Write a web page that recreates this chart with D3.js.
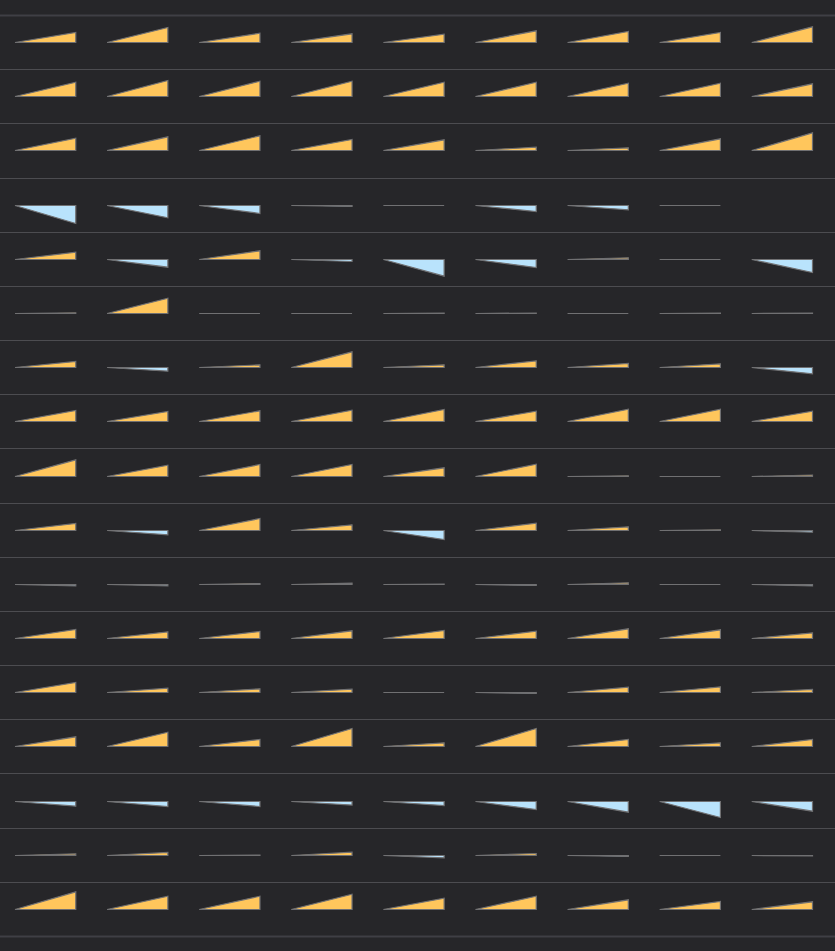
<!DOCTYPE html>
<html>
<head>
<meta charset="utf-8">
<script src="https://cdn.jsdelivr.net/npm/d3@7"></script>
<style>
  html, body { margin: 0; padding: 0; background: #262629; }
  svg { display: block; }
</style>
</head>
<body>
<div id="chart"></div>
<script>
// Columns and rows (categories)
const columns = ["C1", "C2", "C3", "C4", "C5", "C6", "C7", "C8", "C9"];
const rowNames = ["R1","R2","R3","R4","R5","R6","R7","R8","R9","R10","R11","R12","R13","R14","R15","R16","R17"];

// Values per row (positive = rise, negative = fall, null = no data)
const row01 = [10, 15, 9.3, 8.7, 8.3, 11.7, 11, 10, 15.7];
const row02 = [14.3, 16, 15.3, 15.3, 14.3, 14.3, 13.3, 13.3, 12.7];
const row03 = [12.3, 13.7, 14.7, 11, 10.7, 3.3, 2.7, 11.7, 17.7];
const row04 = [-18, -12.3, -8, -1, 0, -6, -4.3, 0, null];
const row05 = [7.3, -7.7, 8.7, -2, -16.7, -8, 1.7, 0, -13];
const row06 = [0.7, 15.3, 0, 0, 0.5, 0.5, 0, 0.5, 0.5];
const row07 = [6, -3.7, 2.7, 15.7, 2.7, 6.7, 4, 3.7, -6.3];
const row08 = [11, 10, 10.7, 11.3, 12, 10.3, 12.3, 12.3, 10.3];
const row09 = [16.7, 11.3, 12, 12, 8.7, 12.3, 0.7, 0, 1.5];
const row10 = [7, -4.3, 12, 5.7, -9, 7.3, 3.7, 0.7, -1.7];
const row11 = [-1.3, -1.3, 1, 1.3, 0.3, -1, 1.7, 0, -1.3];
const row12 = [9, 6.7, 7, 7.7, 8, 7.3, 9.7, 8.7, 5.7];
const row13 = [10, 4.3, 3.7, 3.3, 0, -1, 5.3, 5.7, 3];
const row14 = [9.7, 14.3, 7, 18, 3.7, 18, 7, 3.7, 7];
const row15 = [-4.7, -5, -5, -3.5, -4, -8, -10.7, -16, -9.7];
const row16 = [1.7, 3, 0.5, 3.3, -2.3, 2, -1, 0, -0.3];
const row17 = [17.7, 13.3, 13.3, 15.3, 11.3, 13.3, 9.7, 8, 7.7];

const series = [row01,row02,row03,row04,row05,row06,row07,row08,row09,row10,row11,row12,row13,row14,row15,row16,row17];

const width = 835, height = 951;
const svg = d3.select("#chart").append("svg")
  .attr("width", width).attr("height", height);

svg.append("rect").attr("width", width).attr("height", height).attr("fill", "#262629");

const x = d3.scaleBand().domain(columns).range([15, 812.5]).paddingInner(0.34).paddingOuter(0);
const y = d3.scaleBand().domain(rowNames).range([15, 936]).padding(0);
const h = d3.scaleLinear().domain([0, 20]).range([0, 20]);

// separators
const bounds = rowNames.map(r => y(r)).concat([y(rowNames[rowNames.length - 1]) + y.bandwidth()]);
svg.append("g").selectAll("line").data(bounds).join("line")
  .attr("x1", 0).attr("x2", width)
  .attr("y1", d => Math.round(d) + 0.5).attr("y2", d => Math.round(d) + 0.5)
  .attr("stroke", (d, i) => (i === 0 || i === bounds.length - 1) ? "#3f3f45" : "#4c4c50")
  .attr("stroke-width", (d, i) => (i === 0 || i === bounds.length - 1) ? 2 : 1);

const cells = [];
series.forEach((vals, ri) => {
  vals.forEach((v, ci) => {
    if (v === null || v === undefined) return;
    cells.push({ row: rowNames[ri], col: columns[ci], value: v });
  });
});

svg.append("g").selectAll("path").data(cells).join("path")
  .attr("d", d => {
    const x0 = x(d.col), x1 = x(d.col) + x.bandwidth();
    const b = Math.round(y(d.row) + y.bandwidth() / 2) + 0.5;
    const t = b - h(d.value);
    return `M${x0},${b}L${x1},${b}L${x1},${t}Z`;
  })
  .attr("fill", d => d.value >= 0 ? "#ffc65c" : "#b9e3fc")
  .attr("stroke", "#707072")
  .attr("stroke-width", 1.2)
  .attr("stroke-linejoin", "miter");
</script>
</body>
</html>
